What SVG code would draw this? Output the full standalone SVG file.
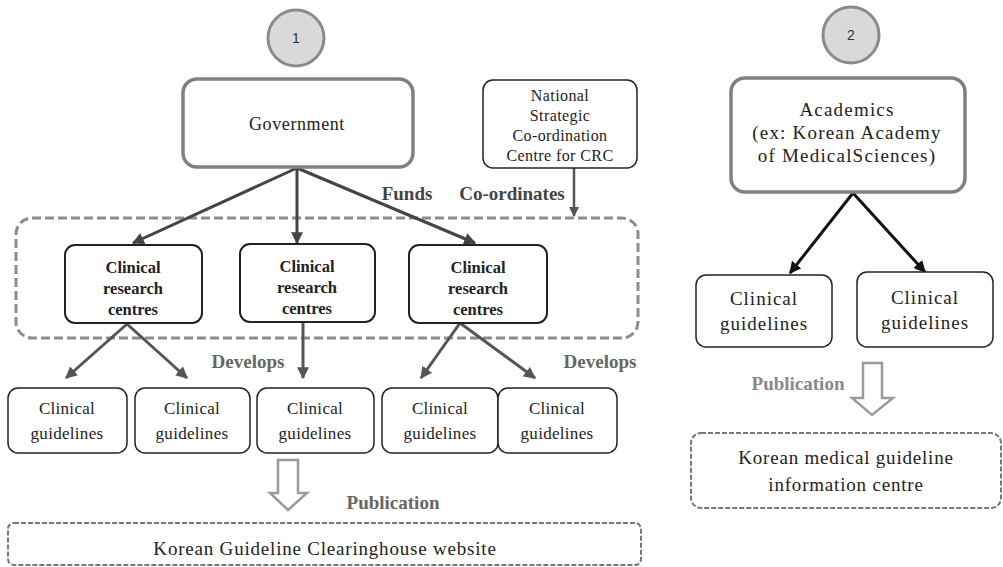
<svg xmlns="http://www.w3.org/2000/svg" width="1003" height="567" viewBox="0 0 1003 567">
<style>
.t{font-family:"Liberation Serif","Times New Roman",serif;fill:#222;text-anchor:middle}
.b{font-family:"Liberation Serif","Times New Roman",serif;font-weight:bold;text-anchor:middle}
.circ{fill:#d9d9d9;stroke:#8a8a8a;stroke-width:3}
.num{font-family:"Liberation Sans",sans-serif;font-size:14px;fill:#333;text-anchor:middle}
.gbox{fill:#fff;stroke:#808080;stroke-width:3.5}
.box{fill:#fff;stroke:#222;stroke-width:1.5}
.crc{fill:#fff;stroke:#222;stroke-width:2}
.dash{fill:none;stroke:#8c8c8c;stroke-width:3;stroke-dasharray:9 4}
.dbox{fill:#fff;stroke:#777;stroke-width:2;stroke-dasharray:5 2}
.blk{fill:#fff;stroke:#9a9a9a;stroke-width:2.5}
</style>
<defs>
<marker id="ag" viewBox="0 0 10 10" refX="9" refY="5" markerWidth="4" markerHeight="4" orient="auto-start-reverse"><path d="M0,0 L10,5 L0,10 z" fill="#444"/></marker>
<marker id="ag2" viewBox="0 0 10 10" refX="9" refY="5" markerWidth="4" markerHeight="4" orient="auto-start-reverse"><path d="M0,0 L10,5 L0,10 z" fill="#555"/></marker>
<marker id="ak" viewBox="0 0 10 10" refX="9" refY="5" markerWidth="4" markerHeight="4" orient="auto-start-reverse"><path d="M0,0 L10,5 L0,10 z" fill="#111"/></marker>
</defs>

<g id="circle1"><circle class="circ" cx="296" cy="38" r="28"/><text class="num" x="296" y="43">1</text></g>
<g id="circle2"><circle class="circ" cx="851" cy="35" r="28"/><text class="num" x="851" y="40">2</text></g>

<g id="cluster"><rect class="dash" x="16" y="218" width="622" height="120" rx="16"/></g>

<g id="connectors">
<line x1="297" y1="168" x2="133" y2="243" stroke="#444" stroke-width="3" marker-end="url(#ag)"/>
<line x1="297" y1="168" x2="297" y2="243" stroke="#444" stroke-width="3" marker-end="url(#ag)"/>
<line x1="297" y1="168" x2="475" y2="243" stroke="#444" stroke-width="3" marker-end="url(#ag)"/>
<line x1="574" y1="168" x2="574" y2="216" stroke="#555" stroke-width="2.5" marker-end="url(#ag2)"/>
<line x1="127" y1="324" x2="66" y2="378" stroke="#555" stroke-width="3" marker-end="url(#ag2)"/>
<line x1="127" y1="324" x2="187" y2="378" stroke="#555" stroke-width="3" marker-end="url(#ag2)"/>
<line x1="303" y1="322" x2="303" y2="378" stroke="#555" stroke-width="3" marker-end="url(#ag2)"/>
<line x1="460" y1="323" x2="421" y2="378" stroke="#555" stroke-width="3" marker-end="url(#ag2)"/>
<line x1="460" y1="323" x2="535" y2="378" stroke="#555" stroke-width="3" marker-end="url(#ag2)"/>
<line x1="853" y1="193" x2="790" y2="273" stroke="#111" stroke-width="3" marker-end="url(#ak)"/>
<line x1="853" y1="193" x2="925" y2="272" stroke="#111" stroke-width="3" marker-end="url(#ak)"/>
<path class="blk" d="M278,460 H298 V493 H307 L288,510 L270,493 H278 Z"/>
<path class="blk" d="M863,363 H882 V398 H893 L872,415 L852,398 H863 Z"/>
<text class="b" x="407" y="200" font-size="19" fill="#444">Funds</text>
<text class="b" x="512" y="200" font-size="19" fill="#444">Co-ordinates</text>
<text class="b" x="248" y="368" font-size="19" fill="#666">Develops</text>
<text class="b" x="600" y="368" font-size="19" fill="#666">Develops</text>
<text class="b" x="393" y="509" font-size="19" fill="#666">Publication</text>
<text class="b" x="798" y="390" font-size="19" fill="#888">Publication</text>
</g>

<g id="government"><rect class="gbox" x="183" y="79" width="230" height="88" rx="14"/><text class="t" x="297" y="130" font-size="18" letter-spacing="0.6">Government</text></g>
<g id="national"><rect class="box" x="483" y="80" width="154" height="88" rx="10"/>
<text class="t" font-size="16" letter-spacing="0.4"><tspan x="560" y="101">National</tspan><tspan x="560" y="121">Strategic</tspan><tspan x="560" y="141">Co-ordination</tspan><tspan x="560" y="161">Centre for CRC</tspan></text></g>

<g id="crc1"><rect class="crc" x="65" y="245" width="137" height="78" rx="10"/><text class="b" font-size="16.5" fill="#222"><tspan x="133" y="273">Clinical</tspan><tspan x="133" y="294">research</tspan><tspan x="133" y="315">centres</tspan></text></g>
<g id="crc2"><rect class="crc" x="240" y="244" width="135" height="78" rx="10"/><text class="b" font-size="16.5" fill="#222"><tspan x="307" y="272">Clinical</tspan><tspan x="307" y="293">research</tspan><tspan x="307" y="314">centres</tspan></text></g>
<g id="crc3"><rect class="crc" x="409" y="245" width="138" height="78" rx="10"/><text class="b" font-size="16.5" fill="#222"><tspan x="478" y="273">Clinical</tspan><tspan x="478" y="294">research</tspan><tspan x="478" y="315">centres</tspan></text></g>

<g id="gl1"><rect class="box" x="8" y="388" width="119" height="65" rx="10"/><text class="t" font-size="17" letter-spacing="0.3"><tspan x="67" y="414">Clinical</tspan><tspan x="67" y="439">guidelines</tspan></text></g>
<g id="gl2"><rect class="box" x="135" y="388" width="115" height="65" rx="10"/><text class="t" font-size="17" letter-spacing="0.3"><tspan x="192" y="414">Clinical</tspan><tspan x="192" y="439">guidelines</tspan></text></g>
<g id="gl3"><rect class="box" x="257" y="388" width="117" height="65" rx="10"/><text class="t" font-size="17" letter-spacing="0.3"><tspan x="315" y="414">Clinical</tspan><tspan x="315" y="439">guidelines</tspan></text></g>
<g id="gl4"><rect class="box" x="382" y="388" width="116" height="65" rx="10"/><text class="t" font-size="17" letter-spacing="0.3"><tspan x="440" y="414">Clinical</tspan><tspan x="440" y="439">guidelines</tspan></text></g>
<g id="gl5"><rect class="box" x="498" y="388" width="119" height="65" rx="10"/><text class="t" font-size="17" letter-spacing="0.3"><tspan x="557" y="414">Clinical</tspan><tspan x="557" y="439">guidelines</tspan></text></g>

<g id="clearinghouse"><rect class="dbox" x="8" y="523" width="633" height="42" rx="6"/><text class="t" x="325" y="555" font-size="19" letter-spacing="0.8">Korean Guideline Clearinghouse website</text></g>

<g id="academics"><rect class="gbox" x="731" y="78" width="234" height="114" rx="14"/>
<text class="t" font-size="19" letter-spacing="1.2"><tspan x="847" y="116">Academics</tspan><tspan x="847" y="139">(ex: Korean Academy</tspan><tspan x="847" y="162">of MedicalSciences)</tspan></text></g>
<g id="gl6"><rect class="box" x="696" y="275" width="136" height="72" rx="10"/><text class="t" font-size="19" letter-spacing="1"><tspan x="764" y="305">Clinical</tspan><tspan x="764" y="330">guidelines</tspan></text></g>
<g id="gl7"><rect class="box" x="857" y="272" width="136" height="75" rx="10"/><text class="t" font-size="19" letter-spacing="1"><tspan x="925" y="304">Clinical</tspan><tspan x="925" y="329">guidelines</tspan></text></g>
<g id="kmgic"><rect class="dbox" x="691" y="433" width="310" height="75" rx="10"/>
<text class="t" font-size="19" letter-spacing="0.8" fill="#333"><tspan x="846" y="464">Korean medical guideline</tspan><tspan x="846" y="491">information centre</tspan></text></g>
</svg>
